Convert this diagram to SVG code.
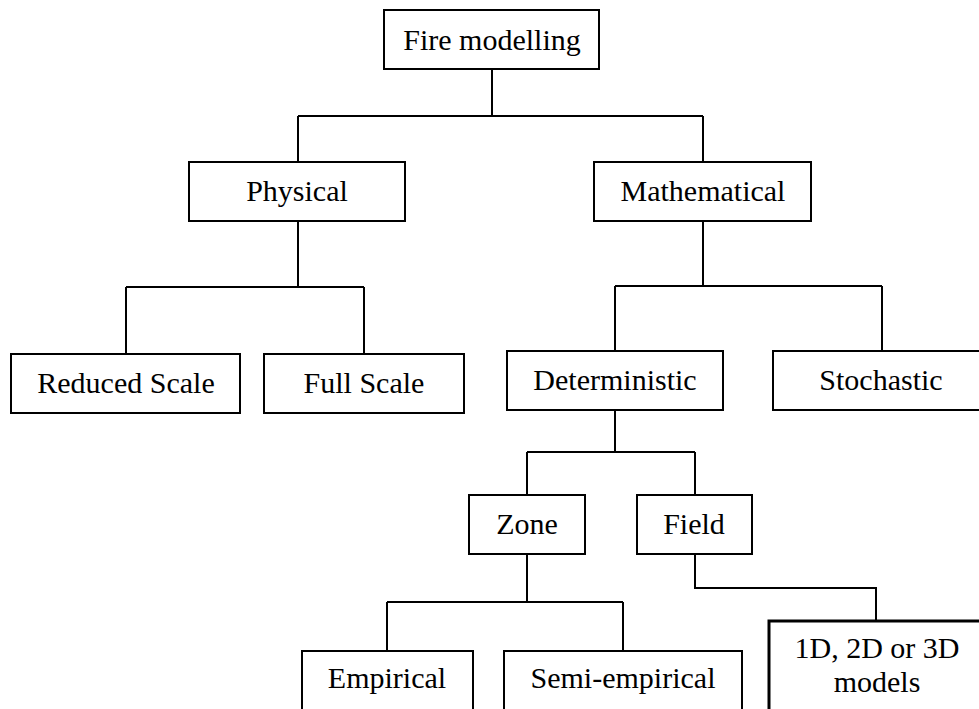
<svg xmlns="http://www.w3.org/2000/svg" width="979" height="709" viewBox="0 0 979 709">
<style>
.box{fill:#fff;stroke:#000;stroke-width:2}
.thick{stroke-width:3}
.lbl{font-family:"Liberation Serif","Times New Roman",serif;font-size:30px;fill:#000;text-anchor:middle}
.conn path{fill:none;stroke:#000;stroke-width:2}
</style>
<rect width="979" height="709" fill="#fff"/>
<g id="connectors" class="conn">
<path d="M492,69 V116 M298,116 H703 M298,116 V162 M703,116 V162"/>
<path d="M298,221 V287 M126,287 H364 M126,287 V354 M364,287 V354"/>
<path d="M703,221 V286 M615,286 H882 M615,286 V351 M882,286 V351"/>
<path d="M615,410 V452 M527,452 H695 M527,452 V495 M695,452 V495"/>
<path d="M527,554 V602 M387,602 H623 M387,602 V651 M623,602 V651"/>
<path d="M695,554 V588 H876 V621"/>
</g>
<g id="fire-modelling"><rect class="box" x="384" y="10" width="215" height="59"/><text class="lbl" x="492" y="50">Fire modelling</text></g>
<g id="physical"><rect class="box" x="189" y="162" width="216" height="59"/><text class="lbl" x="297" y="201">Physical</text></g>
<g id="mathematical"><rect class="box" x="594" y="162" width="217" height="59"/><text class="lbl" x="703" y="201">Mathematical</text></g>
<g id="reduced-scale"><rect class="box" x="11" y="354" width="229" height="59"/><text class="lbl" x="126" y="393">Reduced Scale</text></g>
<g id="full-scale"><rect class="box" x="264" y="354" width="200" height="59"/><text class="lbl" x="364" y="393">Full Scale</text></g>
<g id="deterministic"><rect class="box" x="507" y="351" width="216" height="59"/><text class="lbl" x="615" y="390">Deterministic</text></g>
<g id="stochastic"><rect class="box" x="773" y="351" width="218" height="59"/><text class="lbl" x="881" y="390">Stochastic</text></g>
<g id="zone"><rect class="box" x="469" y="495" width="116" height="59"/><text class="lbl" x="527" y="534">Zone</text></g>
<g id="field"><rect class="box" x="637" y="495" width="115" height="59"/><text class="lbl" x="694" y="534">Field</text></g>
<g id="empirical"><rect class="box" x="302" y="651" width="171" height="70"/><text class="lbl" x="387" y="688">Empirical</text></g>
<g id="semi-empirical"><rect class="box" x="504" y="651" width="238" height="70"/><text class="lbl" x="623" y="688">Semi-empirical</text></g>
<g id="models-1d-2d-3d"><rect class="box thick" x="769" y="621" width="216" height="100"/><text class="lbl" x="877" y="658">1D, 2D or 3D</text><text class="lbl" x="877" y="692">models</text></g>
</svg>
